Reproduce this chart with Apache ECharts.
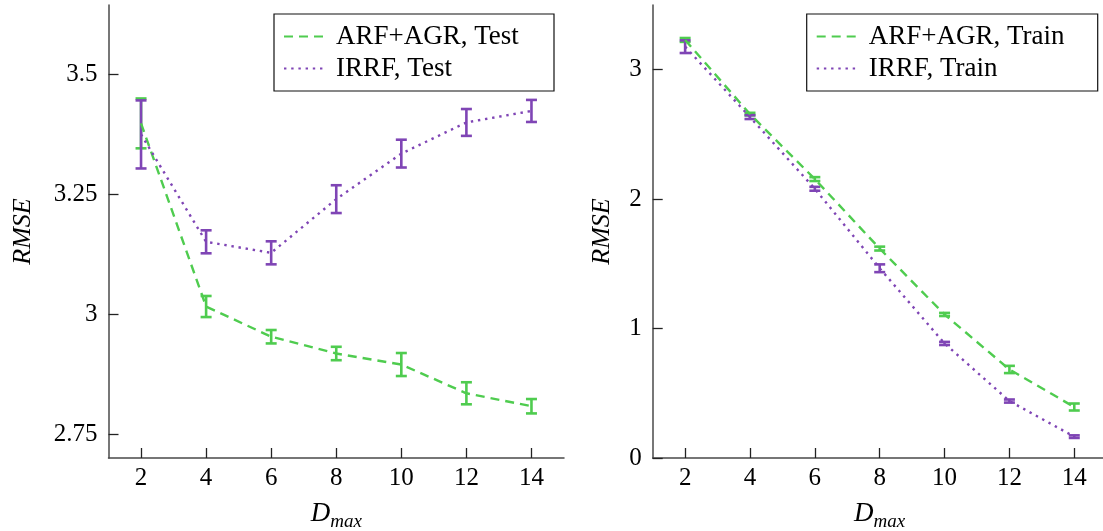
<!DOCTYPE html>
<html>
<head>
<meta charset="utf-8">
<script src="https://cdn.jsdelivr.net/npm/echarts@6/dist/echarts.min.js"></script>
<style>
html, body { margin: 0; padding: 0; background: #fff; }
#chart { width: 1103px; height: 531px; }
</style>
</head>
<body>
<div id="chart"></div>
<script>
// D_max values on the x axis
const dmax = [2, 4, 6, 8, 10, 12, 14];
const xTicks = [2, 4, 6, 8, 10, 12, 14];
const testTicks = [2.75, 3, 3.25, 3.5];
const trainTicks = [0, 1, 2, 3];

// left panel (test)
const testArf = [3.398, 3.016, 2.953, 2.918, 2.895, 2.835, 2.808];
const testArfErr = [0.052, 0.022, 0.014, 0.014, 0.024, 0.023, 0.015];
const testIrrf = [3.375, 3.151, 3.128, 3.240, 3.335, 3.400, 3.424];
const testIrrfErr = [0.071, 0.024, 0.024, 0.029, 0.029, 0.028, 0.023];

// right panel (train)
const trainArf = [3.230, 2.657, 2.155, 1.618, 1.109, 0.684, 0.394];
const trainArfErr = [0.015, 0.010, 0.015, 0.015, 0.012, 0.028, 0.027];
const trainIrrf = [3.178, 2.634, 2.080, 1.466, 0.885, 0.440, 0.165];
const trainIrrfErr = [0.049, 0.015, 0.015, 0.030, 0.012, 0.012, 0.010];

const GREEN = '#4fcc4f';
const PURPLE = '#7f45b5';
const FONT = 'Liberation Serif';
const AXIS = '#4a4a4a';

function pairs(vals) {
  return dmax.map((x, i) => [x, vals[i]]);
}

function lineSeries(name, idx, vals, color, dash) {
  return {
    name: name, type: 'line', xAxisIndex: idx, yAxisIndex: idx,
    data: pairs(vals), symbol: 'none', animation: false,
    lineStyle: { color: color, width: 2.4, type: dash },
    itemStyle: { color: color }
  };
}

function errSeries(name, idx, vals, errs, color) {
  return {
    name: name, type: 'custom', xAxisIndex: idx, yAxisIndex: idx,
    animation: false,
    data: dmax.map((x, i) => [x, vals[i] - errs[i], vals[i] + errs[i]]),
    encode: { x: 0, y: [1, 2] },
    renderItem: function (params, api) {
      const lo = api.coord([api.value(0), api.value(1)]);
      const hi = api.coord([api.value(0), api.value(2)]);
      const w = 5.5;
      const style = { stroke: color, lineWidth: 2.6, fill: null };
      return {
        type: 'group', children: [
          { type: 'line', shape: { x1: lo[0], y1: lo[1], x2: hi[0], y2: hi[1] }, style: style },
          { type: 'line', shape: { x1: hi[0] - w, y1: hi[1], x2: hi[0] + w, y2: hi[1] }, style: style },
          { type: 'line', shape: { x1: lo[0] - w, y1: lo[1], x2: lo[0] + w, y2: lo[1] }, style: style }
        ]
      };
    }
  };
}

function xAxis(idx) {
  return {
    type: 'value', gridIndex: idx, min: 1, max: 15,
    name: '{d|D}{s|max}', nameLocation: 'middle', nameGap: 38,
    nameTextStyle: {
      rich: {
        d: { fontFamily: FONT, fontStyle: 'italic', fontSize: 27, color: '#000' },
        s: { fontFamily: FONT, fontStyle: 'italic', fontSize: 19, color: '#000', padding: [16, 0, 0, 0] }
      }
    },
    axisLine: { show: true, onZero: false, lineStyle: { color: AXIS, width: 1.5 } },
    axisTick: { show: true, inside: true, length: 10, customValues: xTicks, lineStyle: { color: '#222', width: 1.3 } },
    axisLabel: { customValues: xTicks, fontFamily: FONT, fontSize: 25, color: '#000', margin: 8 },
    splitLine: { show: false }
  };
}

function yAxis(idx, min, max, ticks, gap) {
  return {
    type: 'value', gridIndex: idx, min: min, max: max,
    name: 'RMSE', nameLocation: 'middle', nameGap: gap,
    nameTextStyle: { fontFamily: FONT, fontStyle: 'italic', fontSize: 26, color: '#000' },
    axisLine: { show: true, onZero: false, lineStyle: { color: AXIS, width: 1.5 } },
    axisTick: { show: true, inside: true, length: 10, customValues: ticks, lineStyle: { color: '#222', width: 1.3 } },
    axisLabel: { customValues: ticks, fontFamily: FONT, fontSize: 25, color: '#000', margin: 11 },
    splitLine: { show: false }
  };
}

function legend(names, left, textW, padR) {
  return {
    data: names, orient: 'vertical', left: left, top: 14,
    padding: [9, padR, 9, 9], itemWidth: 40, itemHeight: 21, itemGap: 5,
    borderColor: '#111', borderWidth: 1.2, backgroundColor: '#fff',
    selectedMode: false,
    itemStyle: { opacity: 0 },
    textStyle: { fontFamily: FONT, fontSize: 27, lineHeight: 27, color: '#000', width: textW, padding: [0, 0, 0, 7] }
  };
}

const chart = echarts.init(document.getElementById('chart'), null, { renderer: 'canvas' });
chart.setOption({
  animation: false,
  backgroundColor: '#fff',
  grid: [
    { left: 108.5, right: 539, top: 5, bottom: 73, outerBoundsMode: 'none', containLabel: false },
    { left: 652.7, right: -3.7, top: 5, bottom: 73, outerBoundsMode: 'none', containLabel: false }
  ],
  xAxis: [xAxis(0), xAxis(1)],
  yAxis: [yAxis(0, 2.70, 3.645, testTicks, 72), yAxis(1, 0, 3.5, trainTicks, 38)],
  legend: [
    legend(['ARF+AGR, Test', 'IRRF, Test'], 274, 202, 16),
    legend(['ARF+AGR, Train', 'IRRF, Train'], 806.7, 216, 13)
  ],
  series: [
    lineSeries('ARF+AGR, Test', 0, testArf, GREEN, [9, 6]),
    errSeries('ARF+AGR, Test err', 0, testArf, testArfErr, GREEN),
    lineSeries('IRRF, Test', 0, testIrrf, PURPLE, [2.4, 4.8]),
    errSeries('IRRF, Test err', 0, testIrrf, testIrrfErr, PURPLE),
    lineSeries('ARF+AGR, Train', 1, trainArf, GREEN, [9, 6]),
    errSeries('ARF+AGR, Train err', 1, trainArf, trainArfErr, GREEN),
    lineSeries('IRRF, Train', 1, trainIrrf, PURPLE, [2.4, 4.8]),
    errSeries('IRRF, Train err', 1, trainIrrf, trainIrrfErr, PURPLE)
  ]
});
window.addEventListener('resize', () => chart.resize());
</script>
</body>
</html>
